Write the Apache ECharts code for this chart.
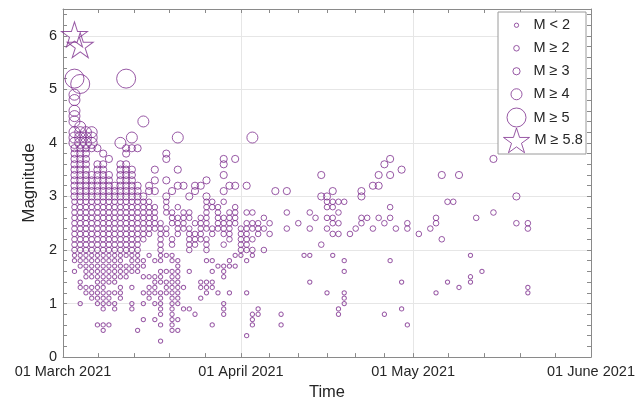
<!DOCTYPE html>
<html><head><meta charset="utf-8">
<script src="https://cdn.jsdelivr.net/npm/echarts@6/dist/echarts.min.js"></script>
<style>html,body{margin:0;padding:0;background:#fff}#c{width:644px;height:406px}</style>
</head><body><div id="c"></div>
<script>
// day offsets from 01 March 2021, and the magnitudes recorded on that day
const dayOffsets = [2,3,4,5,6,7,8,9,10,11,12,13,14,15,16,17,18,19,20,21,22,23,24,25,26,27,28,29,30,31,32,33,34,35,36,37,38,39,41,42,43,44,45,46,47,48,49,50,51,52,53,54,55,56,57,58,59,60,62,64,65,66,67,68,69,71,72,73,75,79,81];
const magnitudesByDay = [
 [6.0,5.2,4.9,4.8,4.6,4.5,4.4,4.2,4.1,4.0,3.9,3.8,3.7,3.6,3.5,3.4,3.3,3.2,3.1,3.0,2.9,2.8,2.7,2.6,2.5,2.4,2.3,2.2,2.1,2.0,1.9,1.8,1.6],
 [5.8,5.1,4.3,4.2,4.1,4.0,3.9,3.8,3.7,3.6,3.5,3.4,3.3,3.2,3.1,3.0,2.9,2.8,2.7,2.6,2.5,2.4,2.3,2.2,2.1,2.0,1.9,1.8,1.7,1.4,1.3,1.0],
 [4.2,4.1,4.0,3.9,3.8,3.7,3.6,3.5,3.4,3.3,3.2,3.1,3.0,2.9,2.8,2.7,2.6,2.5,2.4,2.3,2.2,2.1,2.0,1.9,1.8,1.7,1.6,1.5,1.3,1.2],
 [4.2,4.1,4.0,3.9,3.4,3.3,3.2,3.1,3.0,2.9,2.8,2.7,2.6,2.5,2.4,2.3,2.2,2.1,2.0,1.9,1.8,1.7,1.6,1.5,1.3,1.2,1.1],
 [3.9,3.6,3.5,3.4,3.3,3.2,3.1,3.0,2.9,2.8,2.7,2.6,2.5,2.4,2.3,2.2,2.1,2.0,1.9,1.8,1.7,1.6,1.5,1.4,1.3,1.2,1.1,1.0,0.6],
 [3.8,3.6,3.5,3.4,3.3,3.2,3.1,3.0,2.9,2.8,2.7,2.6,2.5,2.4,2.3,2.2,2.1,2.0,1.9,1.8,1.7,1.6,1.5,1.4,1.3,1.2,1.1,1.0,0.9,0.6,0.5],
 [3.7,3.4,3.3,3.2,3.1,3.0,2.9,2.8,2.7,2.6,2.5,2.4,2.3,2.2,2.1,2.0,1.9,1.8,1.7,1.6,1.5,1.4,1.2,1.1,1.0,0.6],
 [3.2,3.1,3.0,2.9,2.8,2.7,2.6,2.5,2.4,2.3,2.2,2.1,2.0,1.9,1.8,1.7,1.6,1.5,1.4,1.2,1.0,0.9],
 [4.0,3.6,3.5,3.4,3.3,3.2,3.1,3.0,2.9,2.8,2.7,2.6,2.5,2.4,2.3,2.2,2.1,2.0,1.9,1.8,1.7,1.6,1.5,1.3,1.2,1.1],
 [5.2,3.9,3.8,3.6,3.5,3.4,3.3,3.2,3.1,3.0,2.9,2.8,2.7,2.6,2.5,2.4,2.3,2.2,2.1,2.0,1.9,1.7,1.6,1.5],
 [4.1,3.9,3.5,3.4,3.3,3.2,3.1,3.0,2.9,2.8,2.7,2.6,2.5,2.4,2.3,2.2,2.1,2.0,1.9,1.8,1.7,1.6,1.3,1.0,0.9],
 [3.9,3.2,3.1,3.0,2.9,2.8,2.7,2.6,2.5,2.4,2.3,2.2,2.1,2.0,1.9,1.8,1.7,1.6,0.5],
 [4.4,3.0,2.9,2.8,2.7,2.6,2.5,2.4,2.3,2.2,1.8,1.7,1.5,1.2,1.0,0.7],
 [3.2,3.1,2.9,2.8,2.7,2.6,2.5,2.4,2.3,1.9,1.5,1.3,1.2,1.1],
 [3.5,3.3,3.1,2.8,2.7,2.6,2.5,2.4,1.8,1.5,1.4,1.3,1.2,1.0,0.7],
 [2.5,2.4,2.3,2.2,2.1,2.0,1.9,1.8,1.6,1.5,1.4,1.2,1.1,1.0,0.9,0.8,0.6,0.3],
 [3.8,3.7,3.3,3.0,2.9,2.8,2.7,2.4,2.3,1.9,1.6,1.4,1.3,1.2],
 [3.1,2.7,2.6,2.5,2.2,2.1,1.9,1.8,1.6,1.5,1.4,1.3,1.2,1.1,1.0,0.9,0.8,0.7,0.6,0.5],
 [4.1,3.5,3.2,2.8,2.6,2.5,2.4,2.3,1.8,1.7,1.6,1.5,1.4,1.3,1.2,1.1,1.0,0.7,0.5],
 [3.2,2.7,2.6,2.5,2.4,1.3,0.9],
 [3.0,2.7,2.6,2.4,2.3,2.2,2.1,2.0,1.6,0.9],
 [3.2,3.1,2.5,2.3,2.2,2.1,0.8],
 [3.2,2.6,2.5,2.4,2.3,2.2,1.4,1.3,1.1],
 [3.3,3.0,2.9,2.8,2.7,2.6,2.5,2.4,2.2,2.1,2.0,1.8,1.4,1.3,1.2],
 [2.9,2.8,2.4,2.3,1.8,1.6,1.4,1.3,0.6],
 [2.8,2.7,2.6,2.5,2.4,1.7,1.2],
 [3.7,3.6,3.4,3.1,2.9,2.6,2.5,2.4,2.3,2.1,1.7,1.6,1.5,1.0,0.9,0.8],
 [3.2,2.7,2.6,2.5,2.4,2.3,2.2,1.8,1.7,1.2],
 [3.7,3.2,2.8,2.7,2.6,2.5,1.9,1.7],
 [2.4,2.3,2.2,2.1,2.0,1.9],
 [3.2,2.7,2.5,2.4,2.3,2.2,2.1,2.0,1.8,1.2,0.4],
 [4.1,2.7,2.5,2.4,2.2,2.0,1.9,0.8,0.7,0.6],
 [2.5,2.4,2.3,0.9,0.8],
 [2.6,2.4,2.0],
 [2.5,2.3],
 [3.1],
 [0.8,0.6],
 [3.1,2.7,2.4],
 [2.5],
 [1.9],
 [2.7,2.4,1.9,1.4],
 [2.6],
 [3.4,3.0,2.1],
 [3.0,2.9,2.8,2.6,2.4,1.2],
 [3.1,2.9,2.8,2.6,2.5,2.3,1.9],
 [2.9,2.7,2.5,2.3,0.9,0.8],
 [2.9,1.8,1.6,1.2,1.1,1.0],
 [2.3],
 [2.4],
 [3.1,3.0,2.6,2.5],
 [2.6],
 [3.2,2.4],
 [3.4,3.2,2.6],
 [3.6,2.5,0.8],
 [3.7,3.4,2.8,2.6,1.8],
 [2.4],
 [3.5,1.4,0.9],
 [2.5,2.4,0.6],
 [2.3],
 [2.4],
 [2.6,2.5,1.2],
 [3.4,2.2],
 [2.9,1.4],
 [2.9],
 [3.4,1.3],
 [1.9,1.5,1.4],
 [2.6],
 [1.6],
 [3.7,2.7],
 [3.0,2.5],
 [2.5,2.4,1.3,1.2]
];
const classLabels = ['M < 2', 'M \u2265 2', 'M \u2265 3', 'M \u2265 4', 'M \u2265 5', 'M \u2265 5.8'];
const classLower = [-99, 2, 3, 4, 5, 5.8];
const monthTickDays = [0, 31, 61, 92];
const monthTickLabels = ['01 March 2021', '01 April 2021', '01 May 2021', '01 June 2021'];
const minorTickDays = [6.2, 12.4, 18.6, 24.8, 36, 41, 46, 51, 56, 67.2, 73.4, 79.6, 85.8];

const DAY = 86400000;
const T0 = Date.UTC(2021, 2, 1);
const toTime = d => T0 + d * DAY;
const PURPLE = '#7E2F8E';
const AXIS = '#8a8a8a';
const TXT = '#262626';
const FONT = '"Liberation Sans", Arial, Helvetica, sans-serif';
const STAR = 'path://M0,-100 L22.45,-30.9 L95.1,-30.9 L36.3,11.8 L58.8,80.9 L0,38.2 L-58.8,80.9 L-36.3,11.8 L-95.1,-30.9 L-22.45,-30.9 Z';
const symbolSizes = [4.3, 5.6, 7.2, 11, 19, [26, 25]];

const classData = classLabels.map(() => []);
dayOffsets.forEach((d, i) => {
  magnitudesByDay[i].forEach(m => {
    let k = 0;
    for (let j = classLower.length - 1; j >= 0; j--) { if (m >= classLower[j] - 1e-9) { k = j; break; } }
    classData[k].push([toTime(d), m]);
  });
});

const monthTimes = monthTickDays.map(toTime);
const minorTimes = minorTickDays.map(toTime);
const allTimes = monthTimes.concat(minorTimes);
const itemStyle = { color: 'rgba(0,0,0,0)', borderColor: PURPLE, borderWidth: 1 };

const legendCenters = [25, 48, 71, 94, 117, 140];
const legendIconX = 516, legendTextX = 533, legendFont = 14.5;
const legends = classLabels.map((lab, i) => {
  const s = symbolSizes[i];
  const w = Array.isArray(s) ? s[0] : s;
  const h = Array.isArray(s) ? s[1] : s;
  const rowH = Math.max(h, legendFont);
  const left = legendIconX - w / 2;
  const padLeft = Math.max(0, legendTextX - (left + w + 5));
  return {
    data: [lab], orient: 'vertical', left: left, top: legendCenters[i] - rowH / 2,
    padding: 0, itemGap: 0, itemWidth: w, itemHeight: h, selectedMode: false,
    icon: i === 5 ? STAR : 'circle',
    itemStyle: itemStyle,
    textStyle: { fontSize: legendFont, color: TXT, fontFamily: FONT, padding: [0, 0, 0, padLeft] }
  };
});

const series = classLabels.map((lab, i) => ({
  type: 'scatter', name: lab, data: classData[i],
  symbol: i === 5 ? STAR : 'circle',
  symbolSize: symbolSizes[i],
  symbolOffset: i === 5 ? [0, -1.3] : [0, 0],
  itemStyle: itemStyle,
  silent: true, emphasis: { disabled: true }
}));

const chart = echarts.init(document.getElementById('c'), null, { renderer: 'canvas' });
chart.setOption({
  animation: false,
  backgroundColor: '#fff',
  textStyle: { fontFamily: FONT },
  grid: { left: 63, right: 53, top: 9, bottom: 43, containLabel: false },
  xAxis: [
    {
      type: 'value', position: 'bottom', min: toTime(0), max: toTime(92),
      name: 'Time', nameLocation: 'middle', nameGap: 26,
      nameTextStyle: { fontSize: 16.5, color: TXT, fontFamily: FONT },
      axisLine: { show: true, lineStyle: { color: AXIS, width: 1 } },
      axisTick: { show: true, inside: true, length: 4, customValues: monthTimes, lineStyle: { color: AXIS } },
      axisLabel: {
        customValues: monthTimes, margin: 7, fontSize: 14.5, color: TXT, fontFamily: FONT,
        formatter: v => { const k = monthTimes.indexOf(v); return k >= 0 ? monthTickLabels[k] : ''; }
      },
      splitLine: { show: true, lineStyle: { color: '#e6e6e6', width: 1 } }
    },
    {
      type: 'value', position: 'bottom', min: toTime(0), max: toTime(92),
      axisLine: { show: false },
      axisTick: { show: true, inside: true, length: 4, customValues: minorTimes, lineStyle: { color: AXIS } },
      axisLabel: { show: false }, splitLine: { show: false }
    },
    {
      type: 'value', position: 'top', min: toTime(0), max: toTime(92),
      axisLine: { show: true, lineStyle: { color: AXIS, width: 1 } },
      axisTick: { show: true, inside: true, length: 4, customValues: allTimes, lineStyle: { color: AXIS } },
      axisLabel: { show: false }, splitLine: { show: false }
    }
  ],
  yAxis: [
    {
      type: 'value', position: 'left', min: 0, max: 6.5, interval: 1,
      name: 'Magnitude', nameLocation: 'middle', nameGap: 24, nameRotate: 90,
      nameTextStyle: { fontSize: 17, color: TXT, fontFamily: FONT },
      axisLine: { show: true, lineStyle: { color: AXIS, width: 1 } },
      axisTick: { show: true, inside: true, length: 4, lineStyle: { color: AXIS } },
      minorTick: { show: true, splitNumber: 5, length: 4, lineStyle: { color: AXIS } },
      axisLabel: { showMaxLabel: false, margin: 6, fontSize: 14.5, color: TXT, fontFamily: FONT },
      splitLine: { show: true, lineStyle: { color: '#e6e6e6', width: 1 } }
    },
    {
      type: 'value', position: 'right', min: 0, max: 6.5, interval: 1,
      axisLine: { show: true, lineStyle: { color: AXIS, width: 1 } },
      axisTick: { show: true, inside: true, length: 4, lineStyle: { color: AXIS } },
      minorTick: { show: true, splitNumber: 5, length: 4, lineStyle: { color: AXIS } },
      axisLabel: { show: false }, splitLine: { show: false }
    }
  ],
  legend: legends,
  graphic: [{
    type: 'rect', z: 3, shape: { x: 498, y: 12, width: 88, height: 142 },
    style: { fill: '#fff', stroke: '#9a9a9a', lineWidth: 1 }
  }],
  series: series
});
</script>
</body></html>
